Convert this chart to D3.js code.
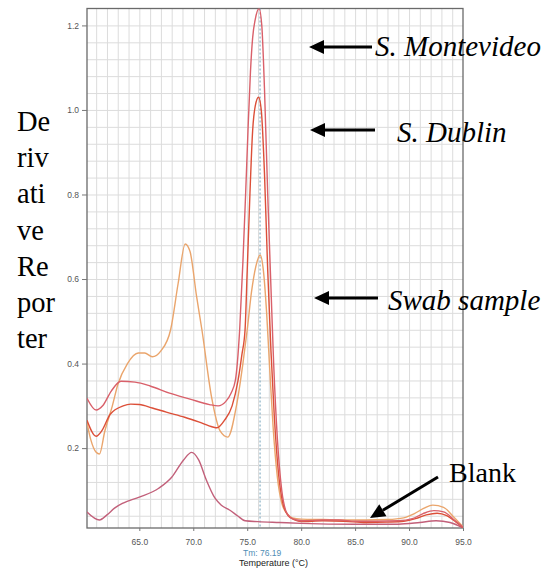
<!DOCTYPE html>
<html>
<head>
<meta charset="utf-8">
<script src="https://cdn.jsdelivr.net/npm/d3@7"></script>
<style>
  body { margin: 0; background: #fff; }
  svg { display: block; }
</style>
</head>
<body>
<svg width="553" height="569"></svg>
<script>
// 곡선 데이터 [온도, 값]
const montevideo = [
  [60.15, 0.318], [61.0, 0.29], [61.6, 0.3], [62.4, 0.335], [63.3, 0.358], [64.6, 0.356],
  [66.0, 0.347], [67.8, 0.33], [69.7, 0.316], [71.5, 0.303], [72.3, 0.3], [73.0, 0.31],
  [73.5, 0.33], [73.9, 0.36], [74.3, 0.48], [74.6, 0.64], [74.85, 0.8], [75.07, 0.95],
  [75.3, 1.09], [75.5, 1.17], [75.75, 1.215], [76.1, 1.24], [76.35, 1.2], [76.6, 1.05],
  [76.9, 0.8], [77.2, 0.58], [77.45, 0.4], [77.8, 0.22], [78.2, 0.1], [78.6, 0.05],
  [79.0, 0.036], [79.6, 0.03], [80.2, 0.028], [82, 0.03], [83.5, 0.03], [85, 0.027],
  [87, 0.027], [89, 0.028], [90.3, 0.033], [91.3, 0.045], [92.3, 0.052], [93.2, 0.049],
  [94.2, 0.03], [95, 0.013]
];
const dublin = [
  [60.15, 0.266], [61.0, 0.228], [61.5, 0.24], [62.3, 0.28], [63.5, 0.3], [64.2, 0.304],
  [65.0, 0.303], [66.2, 0.295], [67.5, 0.285], [69.2, 0.273], [70.5, 0.262], [71.8, 0.25],
  [72.2, 0.248], [72.9, 0.266], [73.6, 0.3], [74.15, 0.36], [74.5, 0.42], [74.8, 0.48],
  [75.0, 0.62], [75.25, 0.8], [75.5, 0.95], [75.75, 1.01], [76.05, 1.03], [76.3, 1.0],
  [76.6, 0.85], [76.9, 0.62], [77.2, 0.43], [77.5, 0.28], [77.9, 0.14], [78.3, 0.07],
  [78.8, 0.04], [79.4, 0.03], [80, 0.026], [82, 0.028], [84, 0.027], [86, 0.024],
  [88, 0.025], [89.5, 0.027], [90.6, 0.033], [91.6, 0.042], [92.6, 0.046], [93.5, 0.04],
  [94.3, 0.026], [95, 0.012]
];
const swab = [
  [60.15, 0.26], [60.5, 0.22], [61.0, 0.19], [61.3, 0.186], [61.8, 0.24], [62.5, 0.3],
  [63.0, 0.35], [63.9, 0.4], [64.9, 0.425], [65.5, 0.425], [66.2, 0.416], [67.0, 0.43],
  [67.9, 0.48], [68.6, 0.59], [69.25, 0.683], [69.7, 0.665], [70.3, 0.56], [70.8, 0.48],
  [71.7, 0.32], [72.5, 0.24], [73.2, 0.226], [74.0, 0.3], [74.6, 0.4], [75.0, 0.48],
  [75.4, 0.57], [75.8, 0.63], [76.2, 0.657], [76.5, 0.62], [76.8, 0.52], [77.1, 0.38],
  [77.4, 0.25], [77.8, 0.13], [78.2, 0.07], [78.7, 0.045], [79.2, 0.035], [80, 0.032],
  [82, 0.031], [84, 0.03], [86, 0.03], [88, 0.031], [89.5, 0.035], [90.5, 0.045],
  [91.4, 0.058], [92.2, 0.065], [93.2, 0.06], [94.2, 0.035], [95, 0.014]
];
const blank = [
  [60.15, 0.049], [61.3, 0.03], [62.0, 0.042], [62.7, 0.058], [63.5, 0.07], [65.0, 0.084],
  [66.8, 0.105], [68.0, 0.131], [69.1, 0.172], [69.85, 0.19], [70.5, 0.172], [71.2, 0.125],
  [72.0, 0.082], [72.6, 0.065], [73.4, 0.053], [74.1, 0.04], [74.8, 0.028], [76, 0.026],
  [78, 0.024], [80, 0.022], [85, 0.02], [89, 0.02], [91, 0.024], [92.5, 0.028],
  [93.8, 0.024], [95, 0.011]
];

const xTicks = [65, 70, 75, 80, 85, 90, 95];
const yTicks = [0.2, 0.4, 0.6, 0.8, 1.0, 1.2];
const tm = 76.19;

const yLabelParts = ["De", "riv", "ati", "ve", "Re", "por", "ter"];
const notes = [
  { text: "S. Montevideo", x: 375, y: 56, italic: true, size: 29, from: [372, 47], to: [309, 47] },
  { text: "S. Dublin", x: 397, y: 142, italic: true, size: 29, from: [375, 130], to: [310, 130] },
  { text: "Swab sample", x: 388, y: 310, italic: true, size: 29, from: [378, 298], to: [314, 298] },
  { text: "Blank", x: 449, y: 482, italic: false, size: 28, from: [438, 477], to: [370, 518] }
];

const svg = d3.select("svg");
const pL = 87, pR = 463, pT = 8.5, pB = 528;

const x = d3.scaleLinear().domain([60.15, 95]).range([pL, pR]);
const y = d3.scaleLinear().domain([0.011, 1.24]).range([pB, pT]);

// 격자
svg.append("g")
  .attr("transform", `translate(0,${pB})`)
  .call(d3.axisBottom(x).tickValues(d3.range(61, 95, 1)).tickSize(-(pB - pT)).tickFormat(""))
  .call(g => g.select(".domain").remove())
  .call(g => g.selectAll("line").attr("stroke", "#dcdcdc"));

svg.append("g")
  .attr("transform", `translate(${pL},0)`)
  .call(d3.axisLeft(y).tickValues(d3.range(1, 31).map(i => i * 0.04)).tickSize(-(pR - pL)).tickFormat(""))
  .call(g => g.select(".domain").remove())
  .call(g => g.selectAll("line").attr("stroke", "#dcdcdc"));

// 테두리
svg.append("rect")
  .attr("x", pL).attr("y", pT)
  .attr("width", pR - pL).attr("height", pB - pT)
  .attr("fill", "none").attr("stroke", "#6a6a6a").attr("stroke-width", 1.3);

// 축
svg.append("g")
  .attr("transform", `translate(0,${pB})`)
  .call(d3.axisBottom(x).tickValues(xTicks).tickFormat(d3.format(".1f")).tickSize(3).tickPadding(8))
  .call(g => g.select(".domain").remove())
  .call(g => g.selectAll("line").attr("stroke", "#777"))
  .call(g => g.selectAll("text").attr("fill", "#555").style("font", "8.5px 'Liberation Sans', Arial, sans-serif"));

svg.append("g")
  .attr("transform", `translate(${pL},0)`)
  .call(d3.axisLeft(y).tickValues(yTicks).tickFormat(d3.format(".1f")).tickSize(5).tickPadding(3))
  .call(g => g.select(".domain").remove())
  .call(g => g.selectAll("line").attr("stroke", "#777"))
  .call(g => g.selectAll("text").attr("fill", "#555").style("font", "8.5px 'Liberation Sans', Arial, sans-serif"));

// Tm 점선
svg.append("line")
  .attr("x1", x(tm)).attr("x2", x(tm))
  .attr("y1", pT).attr("y2", pB)
  .attr("stroke", "#6f9fb8").attr("stroke-width", 1)
  .attr("stroke-dasharray", "2,2");

svg.append("clipPath").attr("id", "plot")
  .append("rect")
  .attr("x", pL).attr("y", pT)
  .attr("width", pR - pL).attr("height", pB - pT);

const line = d3.line()
  .x(d => x(d[0]))
  .y(d => y(d[1]))
  .curve(d3.curveMonotoneX);

const series = [
  { data: blank, color: "#c2607a" },
  { data: swab, color: "#eaa56c" },
  { data: dublin, color: "#dc4f38" },
  { data: montevideo, color: "#d9606a" }
];

svg.append("g")
  .attr("clip-path", "url(#plot)")
  .selectAll("path")
  .data(series)
  .enter()
  .append("path")
  .attr("d", d => line(d.data))
  .attr("fill", "none")
  .attr("stroke", d => d.color)
  .attr("stroke-width", 1.4);

// 축 제목
svg.append("text")
  .attr("x", 243).attr("y", 556)
  .attr("fill", "#4f8db5")
  .style("font", "8.5px 'Liberation Sans', Arial, sans-serif")
  .text(`Tm: ${tm}`);

svg.append("text")
  .attr("x", 239).attr("y", 566)
  .attr("fill", "#222")
  .style("font", "9px 'Liberation Sans', Arial, sans-serif")
  .text("Temperature (°C)");

svg.append("g")
  .selectAll("text")
  .data(yLabelParts)
  .enter()
  .append("text")
  .attr("x", 17)
  .attr("y", (d, i) => 131 + i * 36.2)
  .style("font", "28.5px 'Liberation Serif', 'Times New Roman', serif")
  .attr("fill", "#000")
  .text(d => d);

// 주석 화살표
const notesG = svg.append("g");
notes.forEach(n => {
  const [x1, y1] = n.from, [x2, y2] = n.to;
  const ang = Math.atan2(y2 - y1, x2 - x1);
  const len = 15, half = 7;
  const bx = x2 - len * Math.cos(ang), by = y2 - len * Math.sin(ang);
  notesG.append("line")
    .attr("x1", x1).attr("y1", y1).attr("x2", bx).attr("y2", by)
    .attr("stroke", "#000").attr("stroke-width", 3);
  notesG.append("path")
    .attr("d", `M${x2},${y2}L${bx + half * Math.sin(ang)},${by - half * Math.cos(ang)}L${bx - half * Math.sin(ang)},${by + half * Math.cos(ang)}Z`)
    .attr("fill", "#000");
  notesG.append("text")
    .attr("x", n.x).attr("y", n.y)
    .style("font", `${n.italic ? "italic " : ""}${n.size}px 'Liberation Serif', 'Times New Roman', serif`)
    .attr("fill", "#000")
    .text(n.text);
});
</script>
</body>
</html>
